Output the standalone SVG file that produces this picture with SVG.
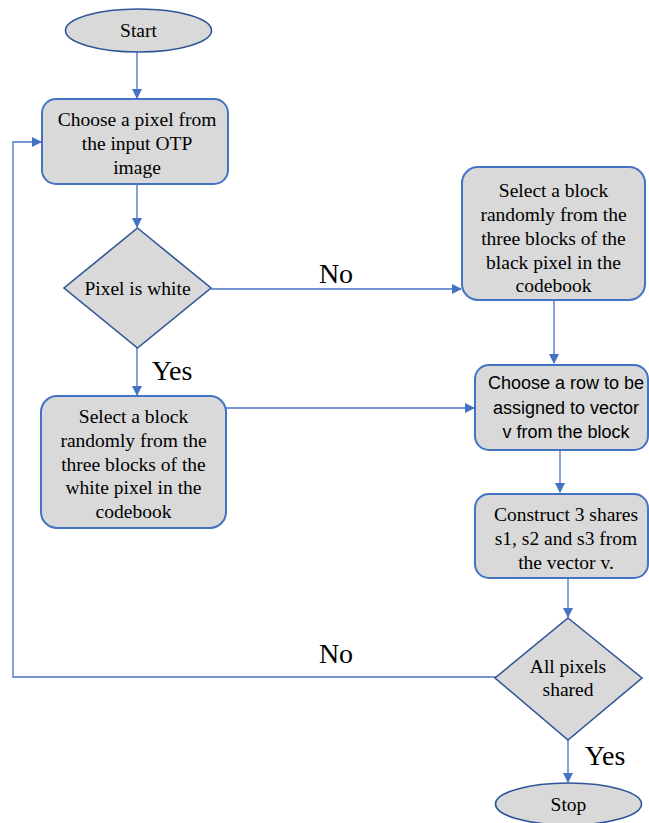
<svg xmlns="http://www.w3.org/2000/svg" width="649" height="823" viewBox="0 0 649 823">
<defs>
<marker id="ah" markerWidth="10" markerHeight="10" refX="9" refY="5" orient="auto" markerUnits="userSpaceOnUse">
<path d="M0,0 L10,5 L0,10 z" fill="#4472c4"/>
</marker>
<style>
.box{fill:#d9d9d9;stroke:#4472c4;stroke-width:2}
.dec{fill:#d9d9d9;stroke:#2f5597;stroke-width:1.6}
.t{font-family:"Liberation Serif","Times New Roman",serif;font-size:19.5px;fill:#000;text-anchor:middle}
.s{font-family:"Liberation Sans",Arial,sans-serif;font-size:18px;fill:#000;text-anchor:middle}
.lbl{font-family:"Liberation Serif","Times New Roman",serif;font-size:28px;fill:#000;text-anchor:middle}
.c{fill:none;stroke:#4472c4;stroke-width:1.3}
</style>
</defs>
<rect width="649" height="823" fill="#fff"/>
<g id="connectors">
<path class="c" d="M137,52 V98" marker-end="url(#ah)"/>
<path class="c" d="M137,184 V227" marker-end="url(#ah)"/>
<path class="c" d="M211,289 H461" marker-end="url(#ah)"/>
<path class="c" d="M137,348 V395" marker-end="url(#ah)"/>
<path class="c" d="M554,300 V363" marker-end="url(#ah)"/>
<path class="c" d="M226,408 H474" marker-end="url(#ah)"/>
<path class="c" d="M560,450 V492" marker-end="url(#ah)"/>
<path class="c" d="M568,578 V617" marker-end="url(#ah)"/>
<path class="c" d="M568,740 V782" marker-end="url(#ah)"/>
<path class="c" d="M496,677 H13 V142 H41" marker-end="url(#ah)"/>
<text class="lbl" x="336" y="283">No</text>
<text class="lbl" x="172" y="380">Yes</text>
<text class="lbl" x="336" y="663">No</text>
<text class="lbl" x="605" y="765">Yes</text>
</g>
<g id="start">
<ellipse class="dec" cx="138.5" cy="30.5" rx="73" ry="21.5"/>
<text class="t" x="138.5" y="37">Start</text>
</g>
<g id="choose-pixel">
<rect class="box" x="42" y="99" width="186" height="85" rx="14"/>
<text class="t" x="137" y="126">Choose a pixel from</text>
<text class="t" x="137" y="150">the input OTP</text>
<text class="t" x="137" y="174">image</text>
</g>
<g id="pixel-white">
<polygon class="dec" points="137.5,228 211,288 137.5,348 64,288"/>
<text class="t" x="137.5" y="295">Pixel is white</text>
</g>
<g id="white-block">
<rect class="box" x="41" y="396" width="185" height="132" rx="16"/>
<text class="t" x="133.5" y="423">Select a block</text>
<text class="t" x="133.5" y="447">randomly from the</text>
<text class="t" x="133.5" y="471">three blocks of the</text>
<text class="t" x="133.5" y="494">white pixel in the</text>
<text class="t" x="133.5" y="518">codebook</text>
</g>
<g id="black-block">
<rect class="box" x="462" y="167" width="183" height="133" rx="16"/>
<text class="t" x="553.5" y="197">Select a block</text>
<text class="t" x="553.5" y="221">randomly from the</text>
<text class="t" x="553.5" y="245">three blocks of the</text>
<text class="t" x="553.5" y="269">black pixel in the</text>
<text class="t" x="553.5" y="292">codebook</text>
</g>
<g id="choose-row">
<rect class="box" x="475" y="365" width="173" height="85" rx="14"/>
<text class="s" x="566" y="389">Choose a row to be</text>
<text class="s" x="566" y="414">assigned to vector</text>
<text class="s" x="566" y="438">v from the block</text>
</g>
<g id="construct">
<rect class="box" x="475" y="494" width="173" height="84" rx="14"/>
<text class="t" x="566" y="521">Construct 3 shares</text>
<text class="t" x="566" y="545">s1, s2 and s3 from</text>
<text class="t" x="566" y="569">the vector v.</text>
</g>
<g id="all-shared">
<polygon class="dec" points="568,618 642,678 568,740 495,678"/>
<text class="t" x="568" y="673">All pixels</text>
<text class="t" x="568" y="696">shared</text>
</g>
<g id="stop">
<ellipse class="dec" cx="568.5" cy="804" rx="73" ry="21"/>
<text class="t" x="568.5" y="811">Stop</text>
</g>
</svg>
